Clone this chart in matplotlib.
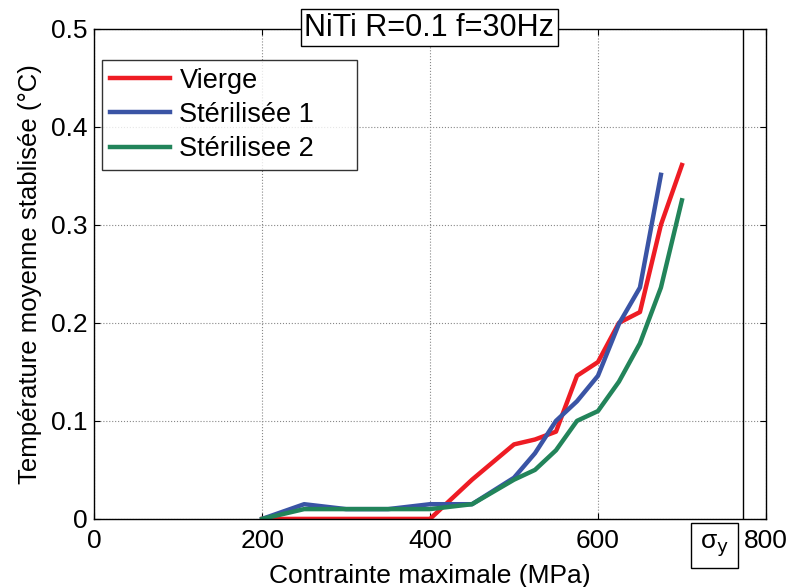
import matplotlib
matplotlib.use("Agg")
import matplotlib.pyplot as plt

plt.rcParams['font.family'] = ['Liberation Sans', 'DejaVu Sans']

x_vierge = [200, 250, 300, 350, 400, 450, 500, 525, 550, 575, 600, 625, 650, 675, 700]
y_vierge = [0, 0, 0, 0, 0, 0.04, 0.076, 0.081, 0.089, 0.146, 0.16, 0.2, 0.211, 0.3, 0.361]

x_ster1 = [200, 250, 300, 350, 400, 450, 500, 525, 550, 575, 600, 625, 650, 675]
y_ster1 = [0, 0.015, 0.01, 0.01, 0.015, 0.015, 0.042, 0.067, 0.1, 0.12, 0.146, 0.199, 0.236, 0.351]

x_ster2 = [200, 250, 300, 350, 400, 450, 500, 525, 550, 575, 600, 625, 650, 675, 700]
y_ster2 = [0, 0.01, 0.01, 0.01, 0.01, 0.015, 0.04, 0.05, 0.07, 0.1, 0.11, 0.14, 0.179, 0.236, 0.325]

sigma_y = 773

xticks = [0, 200, 400, 600, 800]
yticks = [0, 0.1, 0.2, 0.3, 0.4, 0.5]
ytick_labels = ['0', '0.1', '0.2', '0.3', '0.4', '0.5']

fig = plt.figure(figsize=(7.92, 5.87), dpi=100)
ax = fig.add_axes([0.119, 0.116, 0.848, 0.835])

ax.plot(x_vierge, y_vierge, color='#ee1c24', lw=3.2, label='Vierge')
ax.plot(x_ster1, y_ster1, color='#3a54a5', lw=3.2, label='Stérilisée 1')
ax.plot(x_ster2, y_ster2, color='#22845a', lw=3.2, label='Stérilisee 2')
ax.axvline(sigma_y, color='black', lw=1)

ax.set_xlim(0, 800)
ax.set_ylim(0, 0.5)
ax.set_xticks(xticks)
ax.set_yticks(yticks)
ax.set_yticklabels(ytick_labels)
ax.grid(True, color='#888888', linestyle=':', linewidth=0.8)
ax.tick_params(direction='in', top=True, right=True, labelsize=19, length=4)
ax.tick_params(axis='x', pad=7)
ax.tick_params(axis='y', pad=5)
for s in ax.spines.values():
    s.set_linewidth(1.0)

ax.set_xlabel('Contrainte maximale (MPa)', fontsize=19, labelpad=8)
ax.set_ylabel('Température moyenne stablisée (°C)', fontsize=18.5, labelpad=6)

ax.text(0.499, 1.002, 'NiTi R=0.1 f=30Hz', transform=ax.transAxes, ha='center', va='center',
        fontsize=22, bbox=dict(boxstyle='square,pad=0.12', fc='white', ec='black', lw=1))

ax.text(739, -0.014, r'σ$_{\rm y}$', transform=ax.transData, ha='center', va='top',
        fontsize=19, clip_on=False,
        bbox=dict(boxstyle='square,pad=0.35', fc='white', ec='black', lw=1))

leg = ax.legend(loc='upper left', bbox_to_anchor=(0.012, 0.0, 0.379, 0.937), mode='expand',
                fontsize=19.5, frameon=True,
                fancybox=False, edgecolor='black', handlelength=2.2, borderpad=0.3,
                labelspacing=0.3, handletextpad=0.35, borderaxespad=0)
leg.get_frame().set_linewidth(1.0)

fig.savefig('out.png', dpi=100)
